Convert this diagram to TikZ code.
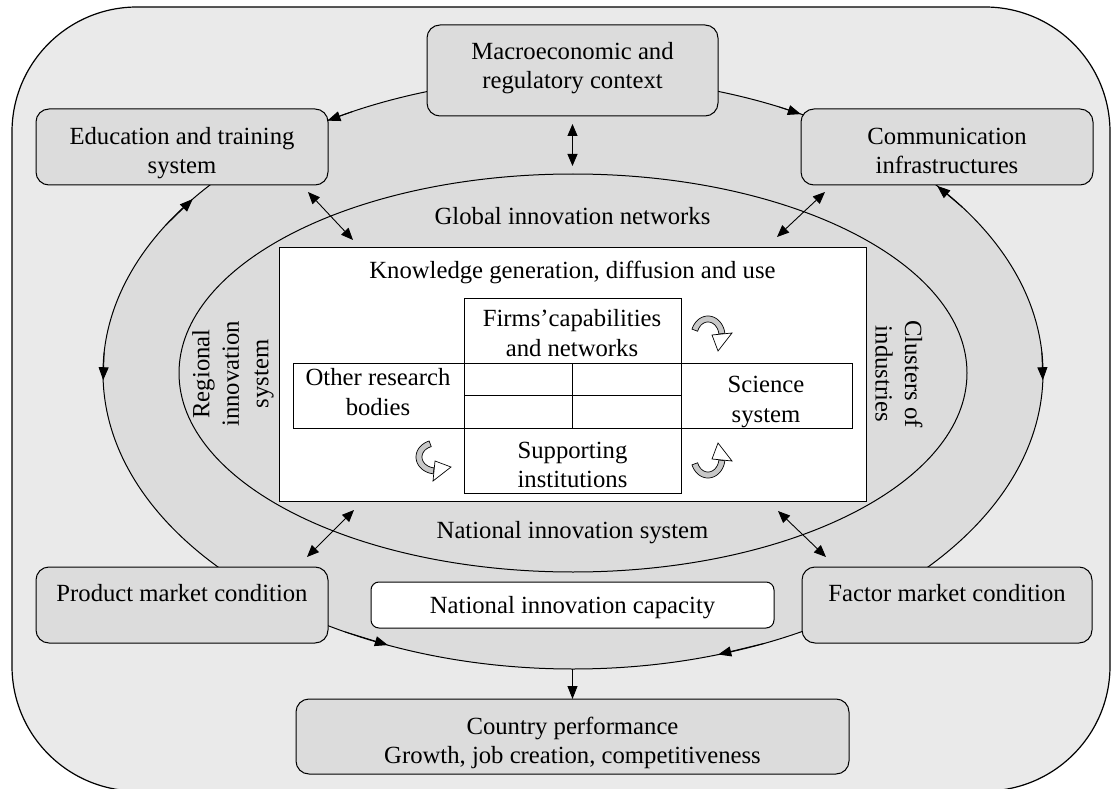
\documentclass[tikz,border=0pt]{standalone}
\usepackage{fontspec}
\setmainfont{Liberation Serif}
\usetikzlibrary{arrows.meta}
\definecolor{bgc}{RGB}{234,234,234}
\definecolor{bandc}{RGB}{220,220,220}
\definecolor{arrc}{RGB}{200,200,200}
% curved block arrow: centre (#1,#2), local (u,v) -> (#1+#3 u+#4 v, #2+#5 u+#6 v)
\newcommand{\cbarrow}[6]{%
  \draw[fill=arrc, line width=0.7pt]
    plot[domain=200:352, samples=30] ({#1+(#3)*17*cos(\x)+(#4)*20*sin(\x)},{#2+(#5)*17*cos(\x)+(#6)*20*sin(\x)})
    -- plot[domain=352:200, samples=30] ({#1+(#3)*11*cos(\x)+(#4)*14*sin(\x)},{#2+(#5)*11*cos(\x)+(#6)*14*sin(\x)})
    -- cycle;
  \draw[fill=white, line width=0.7pt]
    ({#1+(#3)*4+(#4)*(-1)},{#2+(#5)*4+(#6)*(-1)})
    -- ({#1+(#3)*24+(#4)*(-3)},{#2+(#5)*24+(#6)*(-3)})
    -- ({#1+(#3)*10+(#4)*15},{#2+(#5)*10+(#6)*15}) -- cycle;}
\begin{document}
\begin{tikzpicture}[x=1pt, y=-1pt,
  font=\fontsize{24.7}{29.5}\selectfont,
  gbox/.style={draw, fill=bandc, rounded corners=13pt, line width=1pt, inner sep=0pt, outer sep=0pt},
  wbox/.style={draw, fill=white, line width=1pt, inner sep=0pt, outer sep=0pt},
  lbl/.style={align=center, inner sep=0pt},
  arr/.style={-{Triangle[length=13pt,width=10pt]}, line width=0.9pt},
  darr/.style={{Triangle[length=12pt,width=10pt]}-{Triangle[length=12pt,width=10pt]}, line width=0.9pt}]
\useasboundingbox (0,0) rectangle (1112,789);

% background frame and rings
\draw[fill=bgc, line width=1.2pt, rounded corners=125pt] (12,7) rectangle (1110,791);
\draw[fill=bandc, line width=1pt] (573,373) ellipse [x radius=470, y radius=296];
\draw[line width=1pt] (573,373) ellipse [x radius=394, y radius=199];

% boxes
\node[gbox, minimum width=291pt, minimum height=91pt] (macro) at (572.5,70.5) {};
\node[gbox, minimum width=292pt, minimum height=76pt] (edu) at (182,147) {};
\node[gbox, minimum width=292pt, minimum height=76pt] (comm) at (947,147) {};
\node[gbox, minimum width=292pt, minimum height=76pt] (prod) at (182,605) {};
\node[gbox, minimum width=290pt, minimum height=76pt] (fact) at (947,605) {};
\node[draw, fill=white, rounded corners=8pt, line width=1pt, inner sep=0pt, minimum width=403pt, minimum height=46pt] (nic) at (572.5,605) {};
\node[gbox, minimum width=553pt, minimum height=75pt] (country) at (572.5,736.5) {};

\node[lbl] (macrot) at (572.5,68) {Macroeconomic and\\regulatory context};
\node[lbl] (edut) at (182,153) {Education and training\\system};
\node[lbl] (commt) at (947,151) {Communication\\infrastructures};
\node[lbl] (prodt) at (182,593) {Product market condition};
\node[lbl] (factt) at (947,593) {Factor market condition};
\node[lbl] (nict) at (572.5,608) {National innovation capacity};
\node[lbl] (countryt) at (572.5,743) {Country performance\\Growth, job creation, competitiveness};

% central knowledge box
\node[wbox, minimum width=587pt, minimum height=254pt] (kbox) at (572.5,374) {};
\node[wbox, minimum width=217pt, minimum height=65pt] (firms) at (572.5,330.5) {};
\node[wbox, minimum width=559pt, minimum height=65pt] (bar) at (572.5,395.5) {};
\node[wbox, minimum width=217pt, minimum height=65pt] (supp) at (572.5,460.5) {};
\draw[line width=1pt] (firms.south west) -- (supp.north west);
\draw[line width=1pt] (firms.south east) -- (supp.north east);
\draw[line width=1pt] (firms.south) -- (supp.north);
\draw[line width=1pt] (464,395.5) -- (681,395.5);

\node[lbl] (kt) at (572.5,272) {Knowledge generation, diffusion and use};
\node[lbl] (firmst) at (572,333) {Firms’capabilities\\and networks};
\node[lbl] (othert) at (378,392) {Other research\\bodies};
\node[lbl] (sciencet) at (766,402) {Science\\system};
\node[lbl] (suppt) at (572.5,465) {Supporting\\institutions};

% ring labels
\node[lbl] (global) at (572.5,216.5) {Global innovation networks};
\node[lbl] (nis) at (572.5,533) {National innovation system};
\node[lbl, rotate=90] (ris) at (233,374) {Regional\\innovation\\system};
\node[lbl, rotate=-90] (clus) at (899,374) {Clusters of\\industries};

% arrows along the outer ring
\coordinate (a1s) at ({573+470*cos(-118)},{373+296*sin(-118)});
\coordinate (a1e) at ({573+470*cos(-121.5)},{373+296*sin(-121.5)});
\coordinate (a2s) at ({573+470*cos(-64)},{373+296*sin(-64)});
\coordinate (a2e) at ({573+470*cos(-61)},{373+296*sin(-61)});
\coordinate (a3s) at ({573+470*cos(210)},{373+296*sin(210)});
\coordinate (a3e) at ({573+470*cos(216)},{373+296*sin(216)});
\coordinate (a4s) at ({573+470*cos(184)},{373+296*sin(184)});
\coordinate (a4e) at ({573+470*cos(178.6)},{373+296*sin(178.6)});
\coordinate (a5s) at ({573+470*cos(-34)},{373+296*sin(-34)});
\coordinate (a5e) at ({573+470*cos(-39.2)},{373+296*sin(-39.2)});
\coordinate (a6s) at ({573+470*cos(-4)},{373+296*sin(-4)});
\coordinate (a6e) at ({573+470*cos(1.4)},{373+296*sin(1.4)});
\coordinate (a7s) at ({573+470*cos(119)},{373+296*sin(119)});
\coordinate (a7e) at ({573+470*cos(113.2)},{373+296*sin(113.2)});
\coordinate (a8s) at ({573+470*cos(66)},{373+296*sin(66)});
\coordinate (a8e) at ({573+470*cos(72)},{373+296*sin(72)});
\coordinate (ebot) at (572.5,669);
\draw[arr] (a1s) -- (a1e);
\draw[arr] (a2s) -- (a2e);
\draw[arr] (a3s) -- (a3e);
\draw[arr] (a4s) -- (a4e);
\draw[arr] (a5s) -- (a5e);
\draw[arr] (a6s) -- (a6e);
\draw[arr] (a7s) -- (a7e);
\draw[arr] (a8s) -- (a8e);
\draw[arr] (ebot) -- (country.north);

% two-headed links
\coordinate (m1) at (572.5,124); \coordinate (m2) at (572.5,166);
\coordinate (e1) at (308,192);   \coordinate (e2) at (353,240);
\coordinate (c1) at (825,192);   \coordinate (c2) at (777,237);
\coordinate (p1) at (307,557);   \coordinate (p2) at (354,510);
\coordinate (f1) at (826,557);   \coordinate (f2) at (778,511);
\draw[darr] (m1) -- (m2);
\draw[darr] (e1) -- (e2);
\draw[darr] (c1) -- (c2);
\draw[darr] (p1) -- (p2);
\draw[darr] (f1) -- (f2);

% curved block arrows
\cbarrow{708}{336}{1}{0}{0}{1}
\cbarrow{708}{458}{1}{0}{0}{-1}
\cbarrow{436}{457}{0}{1}{1}{0}
\end{tikzpicture}
\end{document}
